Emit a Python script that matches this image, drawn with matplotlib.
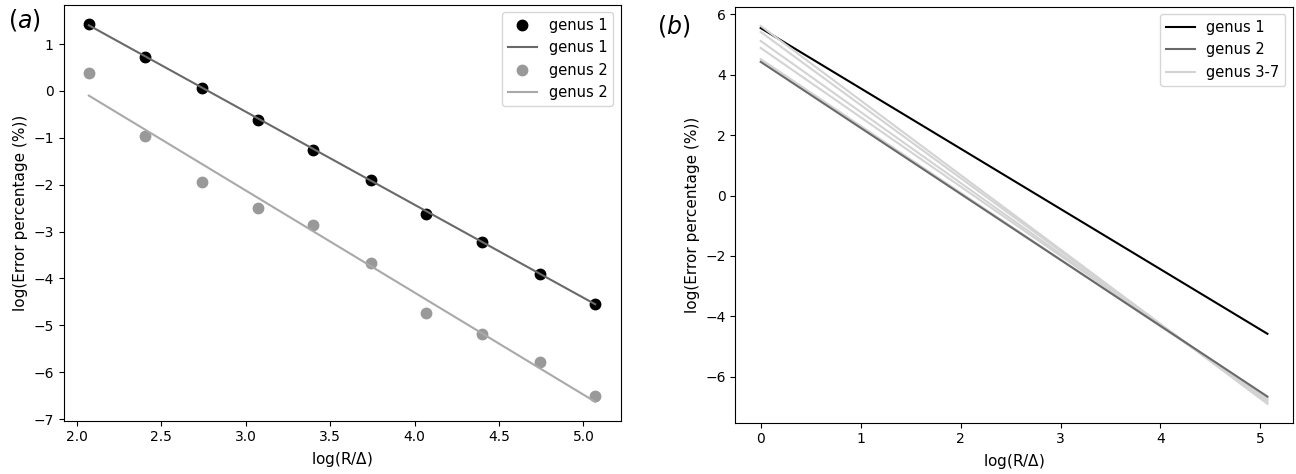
import matplotlib
matplotlib.use("Agg")
import matplotlib.pyplot as plt
import numpy as np

# panel (a): measured points and fitted lines
x_a = [2.07, 2.40, 2.74, 3.07, 3.40, 3.74, 4.07, 4.40, 4.74, 5.07]
g1_pts = [1.43, 0.72, 0.07, -0.61, -1.26, -1.91, -2.62, -3.23, -3.90, -4.54]
g2_pts = [0.38, -0.97, -1.94, -2.49, -2.86, -3.66, -4.74, -5.18, -5.78, -6.50]
fit_x = [2.07, 5.07]
g1_fit = [1.40, -4.55]
g2_fit = [-0.10, -6.63]

# panel (b): fitted lines for each genus
x_b = [0.0, 5.07]
g1_line = [5.55, -4.58]
g2_line = [4.43, -6.66]
g37_lines = [[4.52, -6.70], [4.89, -6.75], [5.12, -6.80], [5.42, -6.85], [5.62, -6.90]]

fig = plt.figure(figsize=(12.96, 4.74), dpi=100)
ax1 = fig.add_axes([0.049, 0.1125, 0.4298, 0.877])
ax2 = fig.add_axes([0.5674, 0.1082, 0.4301, 0.877])

ax1.plot(x_a, g1_pts, 'o', color='black', ms=7.5, label='genus 1')
ax1.plot(fit_x, g1_fit, '-', color='dimgray', lw=1.5, label='genus 1')
ax1.plot(x_a, g2_pts, 'o', color='#999999', ms=7.5, label='genus 2')
ax1.plot(fit_x, g2_fit, '-', color='darkgray', lw=1.5, label='genus 2')
ax1.set_xlabel(r'log(R/$\Delta$)', fontsize=11)
ax1.set_ylabel('log(Error percentage (%))', fontsize=11)
ax1.legend(loc='upper right', numpoints=1, fontsize=10.5)

ax2.plot(x_b, g1_line, color='black', lw=1.5, label='genus 1')
for i, ys in enumerate(g37_lines):
    ax2.plot(x_b, ys, color='lightgray', lw=1.5, label='genus 3-7' if i == 0 else None)
ax2.plot(x_b, g2_line, color='dimgray', lw=1.5, label='genus 2')
h, l = ax2.get_legend_handles_labels()
order = [0, 2, 1]
ax2.legend([h[k] for k in order], [l[k] for k in order], loc='upper right', fontsize=10.5)
ax2.set_xlabel(r'log(R/$\Delta$)', fontsize=11)
ax2.set_ylabel('log(Error percentage (%))', fontsize=11)

fig.text(0.006, 0.985, r'$(a)$', fontsize=17, va='top')
fig.text(0.507, 0.972, r'$(b)$', fontsize=17, va='top')

fig.savefig('out.png', dpi=100)
